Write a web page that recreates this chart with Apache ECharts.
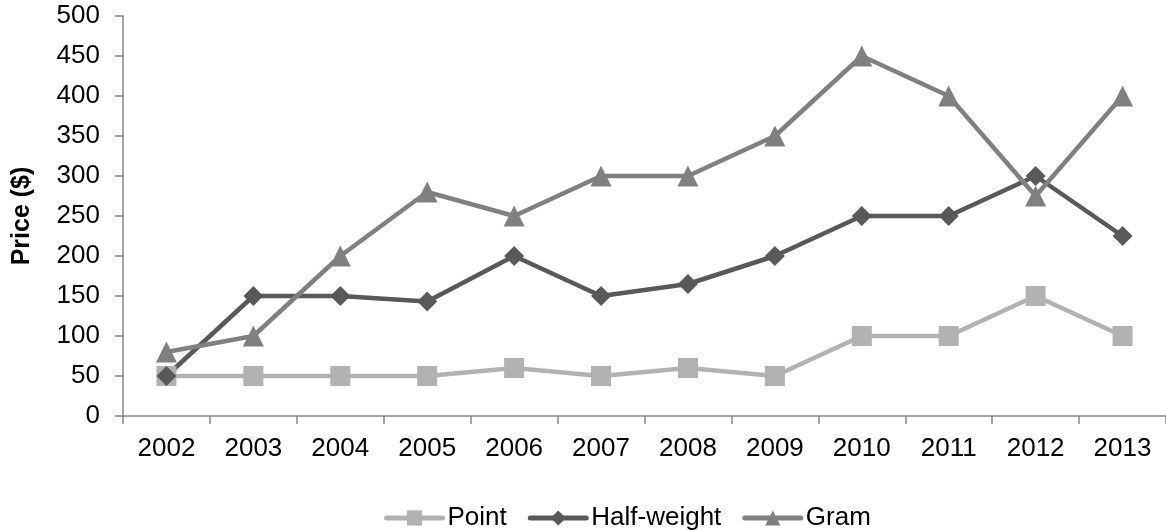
<!DOCTYPE html>
<html><head><meta charset="utf-8">
<script src="https://cdn.jsdelivr.net/npm/echarts@6/dist/echarts.min.js"></script>
<style>html,body{margin:0;padding:0;background:#fff}#c{width:1166px;height:530px}</style>
</head><body><div id="c"></div>
<script>
var years = ['2002','2003','2004','2005','2006','2007','2008','2009','2010','2011','2012','2013'];
var point = [50,50,50,50,60,50,60,50,100,100,150,100];
var halfWeight = [50,150,150,143,200,150,165,200,250,250,300,225];
var gram = [80,100,200,280,250,300,300,350,450,400,275,400];
var yTicks = [0,50,100,150,200,250,300,350,400,450,500];

var font = 'Liberation Sans, Arial, sans-serif';
var chart = echarts.init(document.getElementById('c'), null, {renderer:'canvas'});
function mk(name, data, color, symbol, size){
  return {name:name,type:'line',data:data,symbol:symbol,symbolSize:size,
    lineStyle:{color:color,width:4.5},itemStyle:{color:color},animation:false};
}
chart.setOption({
  animation:false,
  textStyle:{fontFamily:font},
  grid:{left:123,right:0,top:16,bottom:114,containLabel:false},
  xAxis:{type:'category',data:years,boundaryGap:true,
    axisLine:{lineStyle:{color:'#868686',width:1.5}},
    axisTick:{show:true,length:8,lineStyle:{color:'#868686',width:1.5}},
    axisLabel:{color:'#000',fontSize:26,fontFamily:font,margin:20}},
  yAxis:{type:'value',min:yTicks[0],max:yTicks[yTicks.length-1],interval:50,
    name:'Price ($)',nameLocation:'middle',nameGap:88,
    nameTextStyle:{color:'#000',fontSize:25,fontWeight:'bold',fontFamily:font},
    axisLine:{show:true,lineStyle:{color:'#868686',width:1.5}},
    axisTick:{show:true,length:8,lineStyle:{color:'#868686',width:1.5}},
    splitLine:{show:false},
    axisLabel:{color:'#000',fontSize:26,fontFamily:font,margin:23}},
  legend:{top:500,left:379,itemWidth:56,itemHeight:19,itemGap:21,
    lineStyle:{width:5,cap:'round'},
    textStyle:{color:'#000',fontSize:26,fontFamily:font},
    data:['Point','Half-weight','Gram']},
  series:[
    mk('Point',point,'#b2b2b2','rect',20),
    mk('Half-weight',halfWeight,'#595959','diamond',20),
    mk('Gram',gram,'#808080','triangle',21)
  ]
});
</script></body></html>
